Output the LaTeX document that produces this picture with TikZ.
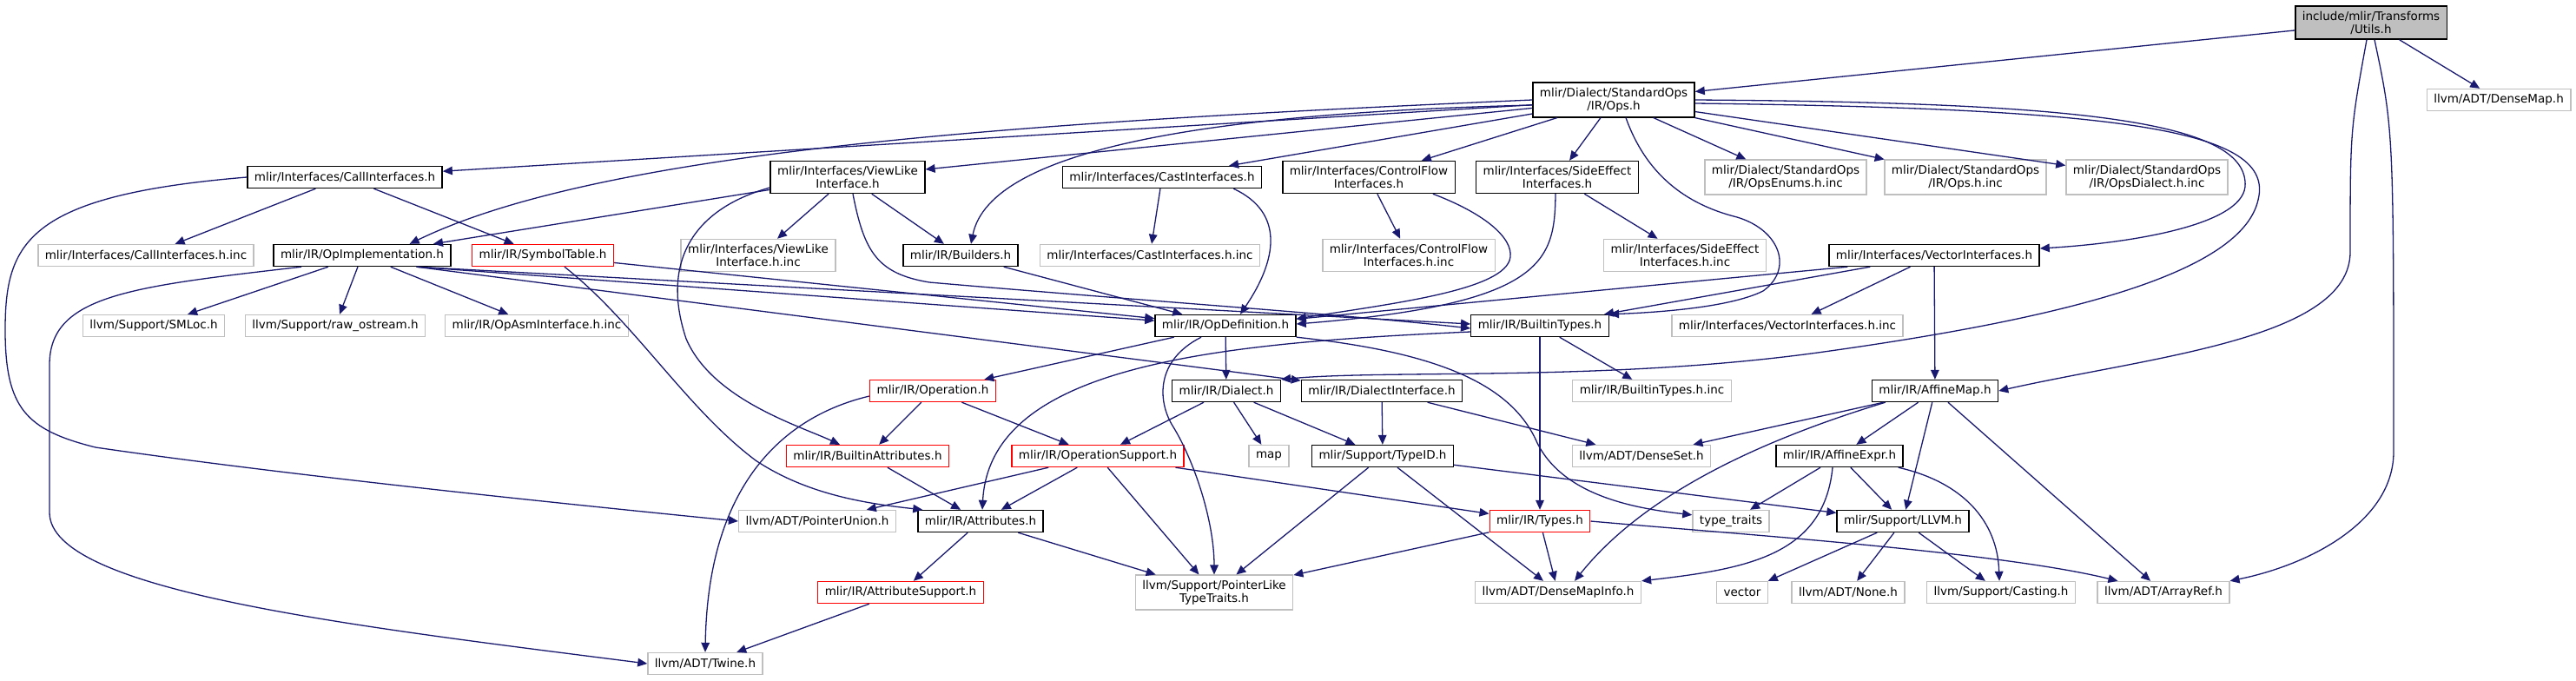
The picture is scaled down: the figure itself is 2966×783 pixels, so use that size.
\documentclass[tikz,border=0pt]{standalone}
\usepackage{fontspec}
\setmainfont{DejaVu Sans}
\usepackage{xcolor}
\usetikzlibrary{arrows.meta}

\definecolor{edgeblue}{RGB}{25,25,112}
\definecolor{boxgrey}{RGB}{191,191,191}
\definecolor{boxred}{RGB}{255,0,0}

\begin{document}
\begin{tikzpicture}[
    x=0.5pt,
    y=-0.5pt,
    font=\fontsize{6.75}{7.5}\selectfont,
    hdr/.style={
        rectangle,
        draw=#1,
        fill=white,
        line width=0.7pt,
        inner xsep=4pt,
        inner ysep=2.9pt,
        minimum height=12.5pt,
        align=center
    },
    hdr/.default=black,
    dep/.style={-{Triangle[length=5.5pt,width=4.8pt]}, line width=0.65pt, draw=edgeblue}
]

\useasboundingbox (0,0) rectangle (2966,783);

\node[hdr, fill=boxgrey] (utils) at (2730,26) {include/mlir/Transforms\\/Utils.h};
\node[hdr] (ops) at (1858,115) {mlir/Dialect/StandardOps\\/IR/Ops.h};
\node[hdr=boxgrey] (densemap) at (2877,115) {llvm/ADT/DenseMap.h};

\node[hdr] (callif) at (397,204) {mlir/Interfaces/CallInterfaces.h};
\node[hdr] (viewlike) at (976,204) {mlir/Interfaces/ViewLike\\Interface.h};
\node[hdr] (castif) at (1338,204) {mlir/Interfaces/CastInterfaces.h};
\node[hdr] (cfif) at (1576,204) {mlir/Interfaces/ControlFlow\\Interfaces.h};
\node[hdr] (seif) at (1793,204) {mlir/Interfaces/SideEffect\\Interfaces.h};
\node[hdr=boxgrey] (opsenums) at (2056,204) {mlir/Dialect/StandardOps\\/IR/OpsEnums.h.inc};
\node[hdr=boxgrey] (opsinc) at (2263,204) {mlir/Dialect/StandardOps\\/IR/Ops.h.inc};
\node[hdr=boxgrey] (opsdialect) at (2472,204) {mlir/Dialect/StandardOps\\/IR/OpsDialect.h.inc};

\node[hdr=boxgrey] (callinc) at (168,294) {mlir/Interfaces/CallInterfaces.h.inc};
\node[hdr] (opimpl) at (417,294) {mlir/IR/OpImplementation.h};
\node[hdr=boxred] (symtab) at (625,294) {mlir/IR/SymbolTable.h};
\node[hdr=boxgrey] (viewinc) at (873,294) {mlir/Interfaces/ViewLike\\Interface.h.inc};
\node[hdr] (builders) at (1106,294) {mlir/IR/Builders.h};
\node[hdr=boxgrey] (castinc) at (1324,294) {mlir/Interfaces/CastInterfaces.h.inc};
\node[hdr=boxgrey] (cfinc) at (1622,294) {mlir/Interfaces/ControlFlow\\Interfaces.h.inc};
\node[hdr=boxgrey] (seinc) at (1940,294) {mlir/Interfaces/SideEffect\\Interfaces.h.inc};
\node[hdr] (vecif) at (2227,294) {mlir/Interfaces/VectorInterfaces.h};

\node[hdr=boxgrey] (smloc) at (177,375) {llvm/Support/SMLoc.h};
\node[hdr=boxgrey] (rawos) at (386,375) {llvm/Support/raw\_ostream.h};
\node[hdr=boxgrey] (opasm) at (618,375) {mlir/IR/OpAsmInterface.h.inc};
\node[hdr] (opdef) at (1411,375) {mlir/IR/OpDefinition.h};
\node[hdr] (btypes) at (1773,375) {mlir/IR/BuiltinTypes.h};
\node[hdr=boxgrey] (vecinc) at (2058,375) {mlir/Interfaces/VectorInterfaces.h.inc};

\node[hdr=boxred] (operation) at (1074,450) {mlir/IR/Operation.h};
\node[hdr] (dialect) at (1412,450) {mlir/IR/Dialect.h};
\node[hdr] (dialectif) at (1591,450) {mlir/IR/DialectInterface.h};
\node[hdr=boxgrey] (btinc) at (1902,450) {mlir/IR/BuiltinTypes.h.inc};
\node[hdr] (affmap) at (2228,450) {mlir/IR/AffineMap.h};

\node[hdr=boxred] (bltattr) at (999,525) {mlir/IR/BuiltinAttributes.h};
\node[hdr=boxred] (opsupport) at (1264,525) {mlir/IR/OperationSupport.h};
\node[hdr=boxgrey] (stdmap) at (1461,525) {map};
\node[hdr] (typeid) at (1592,525) {mlir/Support/TypeID.h};
\node[hdr=boxgrey] (denseset) at (1890,525) {llvm/ADT/DenseSet.h};
\node[hdr] (affexpr) at (2118,525) {mlir/IR/AffineExpr.h};

\node[hdr=boxgrey] (ptrunion) at (941,600) {llvm/ADT/PointerUnion.h};
\node[hdr] (attrs) at (1129,600) {mlir/IR/Attributes.h};
\node[hdr=boxred] (types) at (1773,600) {mlir/IR/Types.h};
\node[hdr=boxgrey] (typetraits) at (1993,600) {type\_traits};
\node[hdr] (llvm) at (2191,600) {mlir/Support/LLVM.h};

\node[hdr=boxred] (attrsupport) at (1037,682) {mlir/IR/AttributeSupport.h};
\node[hdr=boxgrey] (ptrlike) at (1398,682) {llvm/Support/PointerLike\\TypeTraits.h};
\node[hdr=boxgrey] (dmapinfo) at (1794,682) {llvm/ADT/DenseMapInfo.h};
\node[hdr=boxgrey] (vector) at (2006,682) {vector};
\node[hdr=boxgrey] (none) at (2128,682) {llvm/ADT/None.h};
\node[hdr=boxgrey] (casting) at (2304,682) {llvm/Support/Casting.h};
\node[hdr=boxgrey] (arrayref) at (2491,682) {llvm/ADT/ArrayRef.h};

\node[hdr=boxgrey] (twine) at (812,764) {llvm/ADT/Twine.h};

\foreach \a/\b in {utils/ops, utils/densemap, ops/callif, ops/viewlike, ops/castif,
    ops/cfif, ops/seif, ops/opsenums, ops/opsinc, ops/opsdialect, callif/callinc,
    callif/symtab, viewlike/opimpl, viewlike/viewinc, viewlike/builders,
    opimpl/smloc, opimpl/rawos, opimpl/opasm, symtab/opdef, builders/opdef,
    castif/castinc, cfif/cfinc, seif/seinc, vecif/vecinc, vecif/affmap,
    opdef/operation, opdef/dialect, operation/bltattr, operation/opsupport,
    bltattr/attrs, dialect/opsupport, dialect/stdmap, dialect/typeid,
    dialectif/typeid, dialectif/denseset, btypes/btinc, btypes/types,
    opsupport/ptrunion, opsupport/attrs, opsupport/ptrlike, opsupport/types,
    typeid/ptrlike, typeid/dmapinfo, typeid/llvm, attrs/attrsupport, attrs/ptrlike,
    attrsupport/twine, types/ptrlike, types/dmapinfo, affmap/affexpr, affmap/llvm,
    affmap/arrayref, affmap/denseset, affexpr/typetraits, affexpr/llvm,
    llvm/vector, llvm/none, llvm/casting}
    \draw[dep] (\a) -- (\b);

\draw[dep] ([xshift=-20pt]opimpl.south east) -- (opdef);
\draw[dep] ([xshift=-20pt]opimpl.south east) -- ([yshift=1pt]btypes.west);
\draw[dep] ([xshift=-20pt]opimpl.south east) -- (dialectif);
\draw[dep] ([xshift=11pt]vecif.south west) -- (opdef);
\draw[dep] ([xshift=24pt]vecif.south west) -- (btypes);

\draw[dep] ([xshift=-2.5pt]utils.south) .. controls (2706,150) .. (2706,290)
    .. controls (2706,390) and (2480,410) .. (affmap.east);
\draw[dep] ([xshift=2pt]utils.south) .. controls (2756,150) .. (2756,520)
    .. controls (2756,600) and (2660,650) .. (arrayref.north east);
\draw[dep] (ops.west) .. controls (1200,140) and (700,170) .. ([xshift=-24pt]opimpl.north east);
\draw[dep] ([yshift=-3pt]ops.west) .. controls (1400,130) and (1140,170) .. ([xshift=6pt]builders.north);
\draw[dep] ([xshift=7pt]ops.south) .. controls (1895,200) and (1940,235) .. (2000,250)
    .. controls (2050,265) and (2065,310) .. (2030,335)
    .. controls (1990,355) and (1900,360) .. (btypes.north east);
\draw[dep] (ops.east) .. controls (2400,118) and (2590,140) .. (2585,215)
    .. controls (2580,260) and (2450,280) .. ([yshift=4pt]vecif.east);
\draw[dep] ([yshift=-2pt]ops.east) .. controls (2450,125) and (2620,150) .. (2600,230)
    .. controls (2580,320) and (2350,370) .. (2100,405)
    .. controls (1850,440) and (1600,425) .. (dialect.north east);
\draw[dep] (callif.west) .. controls (30,225) and (6,280) .. (6,380)
    .. controls (6,470) and (30,495) .. (110,515)
    .. controls (350,550) and (700,585) .. (ptrunion.west);
\draw[dep] ([xshift=3pt]viewlike.south) .. controls (995,290) and (1010,315) .. (1070,325)
    .. controls (1300,345) and (1550,362) .. ([yshift=-1.5pt]btypes.west);
\draw[dep] ([yshift=-6pt]viewlike.west) .. controls (800,240) and (760,300) .. (790,390)
    .. controls (820,460) and (920,490) .. ([xshift=-16pt]bltattr.north);
\draw[dep] ([xshift=-35pt]opimpl.south) .. controls (150,330) and (57,340) .. (57,420)
    -- (57,590) .. controls (57,680) and (400,720) .. (twine.west);
\draw[dep] ([xshift=12.5pt]symtab.south) .. controls (730,370) and (790,470) .. (870,530)
    .. controls (930,570) and (1000,580) .. ([xshift=3pt]attrs.north west);
\draw[dep] ([xshift=-16.5pt]castif.south east) .. controls (1480,245) and (1470,300) .. ([xshift=8.5pt]opdef.north);
\draw[dep] ([xshift=-13pt]cfif.south east) .. controls (1720,250) and (1745,280) .. (1738,300)
    .. controls (1725,335) and (1600,350) .. ([yshift=4pt]opdef.east);
\draw[dep] ([xshift=-1pt]seif.south) .. controls (1790,300) and (1780,350) .. ([yshift=1pt]opdef.east);
\draw[dep] ([xshift=-14pt]opdef.south) .. controls (1330,415) and (1333,462) .. (1350,490)
    .. controls (1375,530) and (1398,600) .. (ptrlike.north);
\draw[dep] (opdef.south east) .. controls (1650,405) and (1740,440) .. (1770,510)
    .. controls (1800,570) and (1880,585) .. ([yshift=-3pt]typetraits.north west);
\draw[dep] ([yshift=-3pt]operation.west) .. controls (900,480) and (815,560) .. (twine.north);
\draw[dep] ([yshift=-3.5pt]btypes.west) .. controls (1400,395) and (1140,420) .. ([xshift=1pt]attrs.north);
\draw[dep] ([xshift=8pt]affmap.south west) .. controls (2050,500) and (1900,560) .. ([xshift=9.5pt]dmapinfo.north);
\draw[dep] ([xshift=-3pt]affexpr.south east) .. controls (2260,555) and (2300,600) .. ([xshift=-1pt]casting.north);
\draw[dep] ([xshift=-4pt]affexpr.south) .. controls (2100,640) and (2010,655) .. (dmapinfo.north east);
\draw[dep] (types.east) .. controls (2000,615) and (2300,635) .. ([xshift=12pt]arrayref.north west);

\end{tikzpicture}
\end{document}
